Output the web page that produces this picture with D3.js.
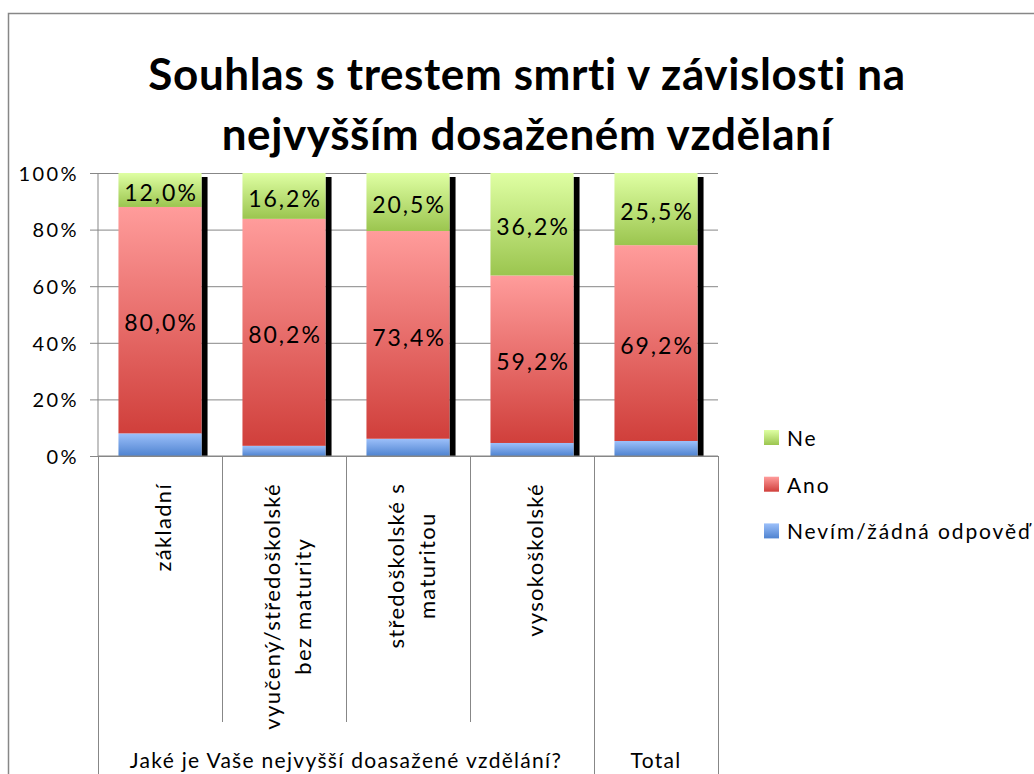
<!DOCTYPE html>
<html>
<meta charset="utf-8" />
<script src="https://d3js.org/d3.v7.min.js"></script>
<body>
<div id="chart"></div>
<script>
// data (percent of respondents)
var categories = ["základní", "vyučený/středoškolské bez maturity", "středoškolské s maturitou", "vysokoškolské", "Total"];
var categoryLines = [["základní"], ["vyučený/středoškolské", "bez maturity"], ["středoškolské s", "maturitou"], ["vysokoškolské"], []];
var groupLabels = ["Jaké je Vaše nejvyšší doasažené vzdělání?", "Total"];
var groupSizes = [4, 1];
var seriesNames = ["Nevím/žádná odpověď", "Ano", "Ne"];
var nevim = [8.0, 3.6, 6.1, 4.6, 5.3];
var ano = [80.0, 80.2, 73.4, 59.2, 69.2];
var ne = [12.0, 16.2, 20.5, 36.2, 25.5];
var yTicks = [0, 20, 40, 60, 80, 100];
var titleLines = ["Souhlas s trestem smrti v závislosti na", "nejvyšším dosaženém vzdělaní"];

var width = 1034, height = 774;
var plot = {left: 98, right: 718, top: 173, bottom: 456};
var font = "Lato, 'Open Sans', sans-serif";
var grey = "#878787";

var svg = d3.select("#chart")
  .append("svg")
    .attr("width", width)
    .attr("height", height)
    .style("display", "block");

svg.append("rect").attr("width", width).attr("height", height).attr("fill", "#fff");

// outer chart border (cut by the picture edge on right and bottom)
svg.append("path")
  .attr("d", "M8.5," + height + "V13.5H" + width)
  .attr("fill", "none")
  .attr("stroke", grey)
  .attr("stroke-width", 1.5);

// gradients
var defs = svg.append("defs");
var grads = [
  {id: "g0", top: "#9cc0fa", bottom: "#4f83d0"},
  {id: "g1", top: "#ff9c9b", bottom: "#d03f3b"},
  {id: "g2", top: "#dfffa3", bottom: "#9bc54f"}
];
grads.forEach(function(g) {
  var lg = defs.append("linearGradient").attr("id", g.id)
    .attr("x1", 0).attr("y1", 0).attr("x2", 0).attr("y2", 1);
  lg.append("stop").attr("offset", "0%").attr("stop-color", g.top);
  lg.append("stop").attr("offset", "100%").attr("stop-color", g.bottom);
});

// title
svg.append("g").selectAll("text")
  .data(titleLines)
  .enter()
  .append("text")
    .attr("x", 527)
    .attr("y", function(d, i) { return 90 + i * 60; })
    .attr("text-anchor", "middle")
    .attr("font-family", font)
    .attr("font-weight", "bold")
    .attr("font-size", 44)
    .attr("letter-spacing", 0.6)
    .attr("fill", "#000")
    .text(function(d) { return d; });

var table = categories.map(function(c, i) {
  return {cat: c, nevim: nevim[i], ano: ano[i], ne: ne[i]};
});
var stacked = d3.stack().keys(["nevim", "ano", "ne"])(table);

var x = d3.scaleBand()
  .domain(categories)
  .range([plot.left, plot.right])
  .paddingInner(0.33)
  .paddingOuter(0.165);

var y = d3.scaleLinear()
  .domain([0, 100])
  .range([plot.bottom, plot.top]);

// gridlines + y axis
var yAxis = svg.append("g")
  .attr("transform", "translate(" + plot.left + ",0)")
  .call(d3.axisLeft(y)
    .tickValues(yTicks)
    .tickSize(8)
    .tickPadding(11)
    .tickFormat(function(d) { return d + "%"; }));
yAxis.select(".domain").remove();
yAxis.selectAll("line").attr("stroke", grey);
yAxis.selectAll("text")
  .attr("font-family", font)
  .attr("font-size", 20)
  .attr("letter-spacing", 2.4)
  .attr("fill", "#000")
  .attr("dy", "0.36em");
yAxis.selectAll(".tick").append("line")
  .attr("x1", 0)
  .attr("x2", plot.right - plot.left)
  .attr("stroke", grey);

// shadows behind bars
svg.append("g").selectAll("rect")
  .data(categories)
  .enter()
  .append("rect")
    .attr("x", function(d) { return x(d) + x.bandwidth(); })
    .attr("y", y(100) + 4)
    .attr("width", 6)
    .attr("height", y(0) - y(100) - 4)
    .attr("fill", "#000");

// stacked bars
var layers = svg.append("g").selectAll("g")
  .data(stacked)
  .enter()
  .append("g")
    .attr("fill", function(d, i) { return "url(#g" + i + ")"; });

layers.selectAll("rect")
  .data(function(d) { return d; })
  .enter()
  .append("rect")
    .attr("x", function(d) { return x(d.data.cat); })
    .attr("y", function(d) { return y(d[1]); })
    .attr("width", x.bandwidth())
    .attr("height", function(d) { return y(d[0]) - y(d[1]); });

// value labels (no label on the thin blue segments)
var fmt = function(v) { return d3.format(".1f")(v).replace(".", ",") + "%"; };
layers.filter(function(d, i) { return i > 0; })
  .selectAll("text")
  .data(function(d) { return d; })
  .enter()
  .append("text")
    .attr("x", function(d) { return x(d.data.cat) + x.bandwidth() / 2 + 1; })
    .attr("y", function(d) { return (y(d[0]) + y(d[1])) / 2 + 11; })
    .attr("text-anchor", "middle")
    .attr("font-family", font)
    .attr("font-size", 23)
    .attr("letter-spacing", 2)
    .attr("fill", "#000")
    .text(function(d) { return fmt(d[1] - d[0]); });

// category axis: baseline + separators
var step = x.step();
svg.append("line")
  .attr("x1", plot.left).attr("x2", plot.right)
  .attr("y1", plot.bottom).attr("y2", plot.bottom)
  .attr("stroke", grey);
svg.append("line")
  .attr("x1", plot.left).attr("x2", plot.left)
  .attr("y1", plot.top).attr("y2", plot.bottom)
  .attr("stroke", grey);

var groupEdges = [0];
groupSizes.forEach(function(n) { groupEdges.push(groupEdges[groupEdges.length - 1] + n); });

svg.append("g").selectAll("line")
  .data(d3.range(categories.length + 1))
  .enter()
  .append("line")
    .attr("x1", function(i) { return Math.round(plot.left + i * step) + 0.5; })
    .attr("x2", function(i) { return Math.round(plot.left + i * step) + 0.5; })
    .attr("y1", plot.bottom)
    .attr("y2", function(i) { return groupEdges.indexOf(i) >= 0 ? height : 722; })
    .attr("stroke", grey);

// rotated category labels
var lineGap = 31;
categories.forEach(function(c, i) {
  var lines = categoryLines[i];
  if (!lines.length) return;
  var cx = x(c) + x.bandwidth() / 2;
  var g = svg.append("g");
  var texts = g.selectAll("text")
    .data(lines)
    .enter()
    .append("text")
      .attr("font-family", font)
      .attr("font-size", 22)
      .attr("letter-spacing", 1.3)
      .attr("fill", "#000")
      .attr("text-anchor", "middle")
      .text(function(d) { return d; });
  var maxLen = d3.max(texts.nodes(), function(n) { return n.getComputedTextLength(); });
  var cy = 483 + maxLen / 2;
  texts.attr("transform", function(d, j) {
    var bx = cx + 11 + (j - (lines.length - 1) / 2) * lineGap;
    return "translate(" + bx + "," + cy + ") rotate(-90)";
  });
});

// group labels
svg.append("g").selectAll("text")
  .data(groupLabels)
  .enter()
  .append("text")
    .attr("x", function(d, i) { return plot.left + (groupEdges[i] + groupEdges[i + 1]) / 2 * step; })
    .attr("y", 768)
    .attr("text-anchor", "middle")
    .attr("font-family", font)
    .attr("font-size", 21)
    .attr("letter-spacing", 1.3)
    .attr("fill", "#000")
    .text(function(d) { return d; });

// legend (top to bottom: Ne, Ano, Nevím)
var legendOrder = [2, 1, 0];
var legend = svg.append("g").selectAll("g")
  .data(legendOrder)
  .enter()
  .append("g")
    .attr("transform", function(d, i) { return "translate(764," + (430 + i * 46.7) + ")"; });
legend.append("rect")
  .attr("width", 15).attr("height", 15)
  .attr("fill", function(d) { return "url(#g" + d + ")"; });
legend.append("text")
  .attr("x", 23)
  .attr("y", 16)
  .attr("font-family", font)
  .attr("font-size", 21)
  .attr("letter-spacing", 1.9)
  .attr("fill", "#000")
  .text(function(d) { return seriesNames[d]; });
</script>
</body>
<style>
  body { margin: 0; background: #fff; }
</style>
</html>
